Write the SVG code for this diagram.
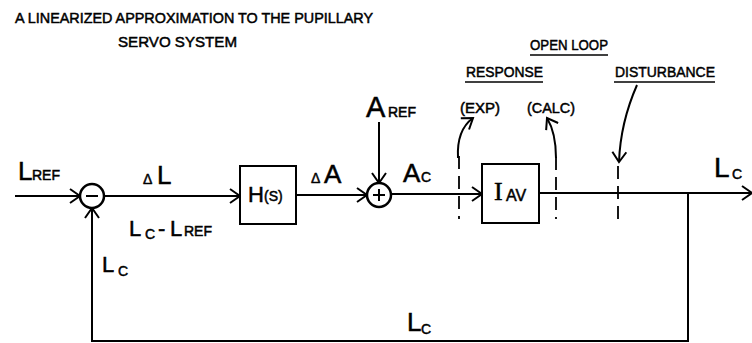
<svg xmlns="http://www.w3.org/2000/svg" width="752" height="343" viewBox="0 0 752 343">
<defs>
<marker id="arr" viewBox="-12 -8 14 16" markerWidth="14" markerHeight="16" refX="0" refY="0" orient="auto" markerUnits="userSpaceOnUse">
<path d="M-10,-7 L0,0 L-10,7" fill="none" stroke="#000" stroke-width="2"/>
</marker>
</defs>
<style>
text{font-family:"Liberation Sans","DejaVu Sans",sans-serif;fill:#000;stroke:#000;stroke-width:0.5}
.t{font-size:15px}
.big{font-size:26px}
.mid{font-size:22px}
.sub{font-size:14px}
.ser{font-family:"Liberation Serif",serif}
.ln{fill:none;stroke:#000;stroke-width:2}
.ul{fill:none;stroke:#000;stroke-width:1.6}
.box{fill:#fff;stroke:#000;stroke-width:2}
.sum{fill:#fff;stroke:#000;stroke-width:2.5}
.dash{fill:none;stroke:#000;stroke-width:1.8;stroke-dasharray:13,7}
</style>
<rect width="752" height="343" fill="#fff"/>
<g id="title">
<text class="t" x="15" y="23" textLength="358" lengthAdjust="spacingAndGlyphs">A LINEARIZED APPROXIMATION TO THE PUPILLARY</text>
<text class="t" x="118" y="47" textLength="119" lengthAdjust="spacingAndGlyphs">SERVO SYSTEM</text>
</g>
<g id="connectors">
<path class="ln" d="M15,196 L80,196" marker-end="url(#arr)"/>
<path class="ln" d="M104,196 L240,196" marker-end="url(#arr)"/>
<path class="ln" d="M296,195 L367,195" marker-end="url(#arr)"/>
<path class="ln" d="M379,122 L379,183" marker-end="url(#arr)"/>
<path class="ln" d="M391,194 L482,194" marker-end="url(#arr)"/>
<path class="ln" d="M539,193 L752,193" marker-end="url(#arr)"/>
<path class="ln" d="M688,193 L688,341 L92,341 L92,208" marker-end="url(#arr)"/>
<path class="dash" d="M459,156 L459,219"/>
<path class="dash" d="M556,157 L556,219"/>
<path class="dash" d="M618,166 L618,223"/>
<path class="ln" d="M458,158 C457,140 462,126 473,118" marker-end="url(#arr)"/>
<path class="ln" d="M556,158 C556,140 553,128 547,118" marker-end="url(#arr)"/>
<path class="ln" d="M637,85 C626,110 620,135 619,162" marker-end="url(#arr)"/>
</g>
<g id="sum1">
<circle class="sum" cx="92" cy="196" r="12"/>
<path class="ln" d="M86,196 L98,196"/>
</g>
<g id="H">
<rect class="box" x="240" y="166" width="56" height="58"/>
<text class="mid" x="248" y="202">H</text><text class="sub" x="264" y="201">(S)</text>
</g>
<g id="sum2">
<circle class="sum" cx="379" cy="195" r="12"/>
<path class="ln" d="M373,195 L385,195 M379,189 L379,201"/>
</g>
<g id="Iav">
<rect class="box" x="482" y="164" width="57" height="59"/>
<text class="big ser" x="494" y="200">I</text><text class="sub" x="506" y="201" style="font-size:16px">AV</text>
</g>
<g id="labels">
<text class="big" x="18" y="180">L</text><text class="sub" x="32" y="180">REF</text>
<text class="sub" x="143" y="184">Δ</text><text class="big" x="157" y="184">L</text>
<text class="mid" x="129" y="236">L</text><text class="sub" x="145" y="239">C</text><text class="mid" x="158" y="236">-</text><text class="mid" x="170" y="236">L</text><text class="sub" x="184" y="236">REF</text>
<text class="mid" x="102" y="272">L</text><text class="sub" x="118" y="276">C</text>
<text class="sub" x="311" y="183">Δ</text><text class="big" x="324" y="183">A</text>
<text style="font-size:29px" x="366" y="117">A</text><text class="sub" x="388" y="117">REF</text>
<text class="big" x="403" y="182">A</text><text class="sub" x="421" y="182">C</text>
<text style="font-size:28px" x="714" y="177">L</text><text class="sub" x="732" y="179">C</text>
<text class="big" x="407" y="331">L</text><text class="sub" x="421" y="334">C</text>
<text class="t" x="530" y="50" textLength="78" lengthAdjust="spacingAndGlyphs">OPEN LOOP</text>
<path class="ul" d="M530,55 L608,55"/>
<text class="t" x="466" y="77" textLength="77" lengthAdjust="spacingAndGlyphs">RESPONSE</text>
<path class="ul" d="M465,82 L543,82"/>
<text class="t" x="615" y="77" textLength="100" lengthAdjust="spacingAndGlyphs">DISTURBANCE</text>
<path class="ul" d="M614,82 L715,82"/>
<text class="t" x="460" y="113" textLength="40" lengthAdjust="spacingAndGlyphs">(EXP)</text>
<text class="t" x="527" y="113" textLength="48" lengthAdjust="spacingAndGlyphs">(CALC)</text>
</g>
</svg>
